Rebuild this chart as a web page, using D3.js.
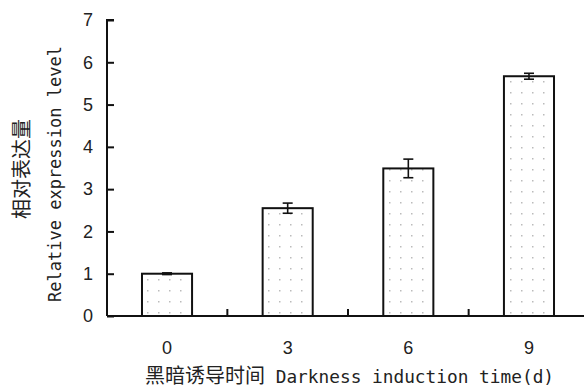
<!DOCTYPE html>
<html><head><meta charset="utf-8">
<script src="https://cdn.jsdelivr.net/npm/d3@7"></script>
<style>body{margin:0;background:#fff}svg{display:block}</style>
</head><body>
<svg id="c" width="584" height="389"></svg>
<script>
const categories = ["0","3","6","9"];
const values = [1.0, 2.55, 3.49, 5.67];
const errors = [0.02, 0.12, 0.22, 0.07];
const yTicks = [0,1,2,3,4,5,6,7];

const svg = d3.select("#c");
const m = {l:107, r:-5, t:20, b:73};
const W = 584, H = 389;
const x = d3.scaleBand().domain(categories).range([m.l, W - m.r]).paddingInner(0.585).paddingOuter(0.29);
const y = d3.scaleLinear().domain([0,7]).range([H - m.b, m.t]);

const defs = svg.append("defs");
const pat = defs.append("pattern").attr("id","dots").attr("patternUnits","userSpaceOnUse")
  .attr("width",11).attr("height",11);
pat.append("rect").attr("x",4).attr("y",4).attr("width",1.5).attr("height",1.5).attr("fill","#bbb");

// bars
svg.selectAll("rect.bar").data(values).join("rect").attr("class","bar")
  .attr("x",(d,i)=>x(categories[i])).attr("width",x.bandwidth())
  .attr("y",d=>y(d)).attr("height",d=>y(0)-y(d))
  .attr("fill","url(#dots)").attr("stroke","#111").attr("stroke-width",2);

// error bars
const eb = svg.append("g").attr("stroke","#111").attr("stroke-width",1.6);
values.forEach((v,i)=>{
  const cx = x(categories[i]) + x.bandwidth()/2;
  eb.append("line").attr("x1",cx).attr("x2",cx).attr("y1",y(v+errors[i])).attr("y2",y(v-errors[i]));
  eb.append("line").attr("x1",cx-5).attr("x2",cx+5).attr("y1",y(v+errors[i])).attr("y2",y(v+errors[i]));
  eb.append("line").attr("x1",cx-5).attr("x2",cx+5).attr("y1",y(v-errors[i])).attr("y2",y(v-errors[i]));
});

// y axis
const ya = svg.append("g").attr("transform",`translate(${m.l},0)`)
  .call(d3.axisRight(y).tickValues(yTicks).tickSize(7).tickFormat(d3.format("d")));
ya.select(".domain").attr("stroke","#111").attr("stroke-width",2).attr("d",`M7,${y(7)}H0V${y(0)}`);
ya.selectAll(".tick line").attr("stroke","#111").attr("stroke-width",2);
ya.selectAll(".tick text").attr("x",-19).attr("text-anchor","middle")
  .style("font-family","Liberation Sans, Arial, sans-serif").style("font-size","18px").attr("fill","#222");

// x axis
const step = x.step();
const bounds = categories.slice(1).map((c)=> x(c) - (step - x.bandwidth())/2);
const xa = svg.append("g");
xa.append("line").attr("x1",m.l).attr("x2",W).attr("y1",y(0)).attr("y2",y(0)).attr("stroke","#111").attr("stroke-width",2);
xa.selectAll("line.t").data(bounds).join("line").attr("class","t")
  .attr("x1",d=>d).attr("x2",d=>d).attr("y1",y(0)).attr("y2",y(0)-7).attr("stroke","#111").attr("stroke-width",2);
xa.selectAll("text").data(categories).join("text")
  .attr("x",d=>x(d)+x.bandwidth()/2).attr("y",354).attr("text-anchor","middle")
  .style("font-family","Liberation Sans, Arial, sans-serif").style("font-size","18px").attr("fill","#222").text(d=>d);

// titles
svg.append("text").attr("x",145).attr("y",383).attr("text-anchor","start")
  .attr("fill","#222")
  .html('<tspan style="font-family:\'Noto Sans CJK SC\';font-size:20px">黑暗诱导时间</tspan><tspan style="font-family:\'DejaVu Sans Mono\',monospace;font-size:17.8px"> Darkness induction time(d)</tspan>');

svg.append("text").attr("transform","translate(29,169) rotate(-90)").attr("text-anchor","middle")
  .style("font-family","Noto Sans CJK SC").style("font-size","20px").attr("fill","#222").text("相对表达量");
svg.append("text").attr("transform","translate(61,174) rotate(-90)").attr("text-anchor","middle")
  .style("font-family","'DejaVu Sans Mono',monospace").style("font-size","17px").attr("fill","#222")
  .text("Relative expression level");
</script>
</body></html>
